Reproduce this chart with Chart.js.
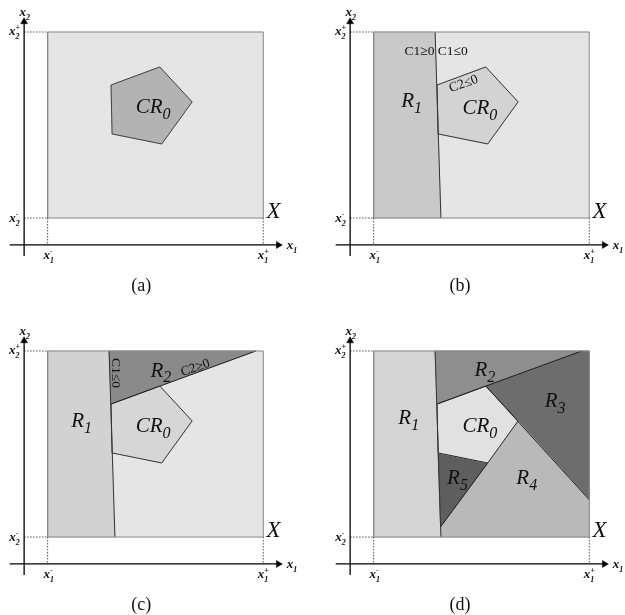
<!DOCTYPE html>
<html>
<head>
<meta charset="utf-8">
<script src="https://cdn.jsdelivr.net/npm/chart.js@4"></script>
<style>
html, body { margin: 0; padding: 0; overflow: hidden; background: #fff; }
canvas { position: absolute; }
</style>
</head>
<body>
<canvas id="panelA" width="326" height="319" style="left:0;top:0"></canvas>
<canvas id="panelB" width="326" height="319" style="left:326px;top:0"></canvas>
<canvas id="panelC" width="326" height="319" style="left:0;top:319px"></canvas>
<canvas id="panelD" width="326" height="319" style="left:326px;top:319px"></canvas>
<script>
// Region corners in (x1, x2) units, box X scaled to 0..100 on both axes
const boxCorners = [[0, 0], [100, 0], [100, 100], [0, 100]];
const cr0Corners = [[29.4, 71.5], [52, 81.2], [67, 62.4], [52.9, 39.8], [29.9, 45.2]];
const r1Corners = [[0, 0], [31.2, 0], [28.5, 100], [0, 100]];
const r2Corners = [[28.5, 100], [96.5, 100], [52, 81.2], [29.4, 71.5]];
const r3Corners = [[96.5, 100], [100, 100], [100, 20], [67, 62.4], [52, 81.2]];
const r4Corners = [[67, 62.4], [100, 20], [100, 0], [31.2, 0], [31.05, 5.5], [52.9, 39.8]];
const r5Corners = [[29.9, 45.2], [52.9, 39.8], [31.05, 5.5]];

// Cuts between regions
const cut1 = [[28.5, 100], [31.2, 0]];          // C1 = 0
const cut2 = [[29.4, 71.5], [96.5, 100]];       // C2 = 0
const cut3 = [[52, 81.2], [100, 20]];
const cut4 = [[52.9, 39.8], [31.05, 5.5]];

// Where the coordinate axes sit
const originX1 = -10.9;
const originX2 = -14.5;

const captions = ['(a)', '(b)', '(c)', '(d)'];
const captionX = [43.4, 40, 43.4, 40];

// Functions START
function closed(points) {
    return points.concat([points[0]]).map(([x, y]) => ({x: x, y: y}));
}

function polygon(points, color) {
    return {
        data: closed(points), showLine: true, fill: 'shape',
        backgroundColor: color, borderColor: color, borderWidth: 1,
        pointRadius: 0, tension: 0, clip: false
    };
}

function outline(points, color, width) {
    return {
        data: closed(points), showLine: true, fill: false,
        borderColor: color, borderWidth: width, pointRadius: 0, tension: 0, clip: false
    };
}

function segment(points, color, width, dash) {
    return {
        data: points.map(([x, y]) => ({x: x, y: y})), showLine: true, fill: false,
        borderColor: color, borderWidth: width, borderDash: dash || [],
        pointRadius: 0, tension: 0, clip: false
    };
}

function arrow(points, rotation) {
    let ds = segment(points, '#000', 1.3);
    ds.pointRadius = [0, 4];
    ds.pointStyle = 'triangle';
    ds.pointRotation = rotation;
    ds.pointBackgroundColor = '#000';
    ds.pointBorderColor = '#000';
    ds.pointBorderWidth = 0.5;
    return ds;
}

function frame() {
    // axes, dotted bound markers and the outline of X
    return [
        segment([[originX1, 100], [0, 100]], '#555', 1, [1.5, 1.5]),
        segment([[originX1, 0], [0, 0]], '#555', 1, [1.5, 1.5]),
        segment([[0, 0], [0, originX2]], '#555', 1, [1.5, 1.5]),
        segment([[100, 0], [100, originX2]], '#555', 1, [1.5, 1.5]),
        outline(boxCorners, '#8a8a8a', 1),
        arrow([[originX1, -20.4], [originX1, 105.5]], 0),
        arrow([[-17.6, originX2], [107, originX2]], 90)
    ];
}

function label(at, parts, size, extra) {
    return Object.assign({at: at, parts: parts, size: size, italic: true, subRatio: 0.65}, extra || {});
}

function region(at, name, sub) {
    return label(at, [[name, 'base'], [sub, 'sub']], 21, {subRatio: 0.74});
}

function axisLabels(idx) {
    const b = {bold: true};
    return [
        label([-10.6, 110.8], [['x', 'base'], ['2', 'sub']], 13, b),
        label([-15.4, 100.5], [['x', 'base'], ['2', 'sub'], ['+', 'sup']], 13, b),
        label([-15.4, 0], [['x', 'base'], ['2', 'sub'], ['-', 'sup']], 13, b),
        label([0.5, -19.8], [['x', 'base'], ['1', 'sub'], ['-', 'sup']], 13, b),
        label([100, -19.8], [['x', 'base'], ['1', 'sub'], ['+', 'sup']], 13, b),
        label([110.9, originX2], [['x', 'base'], ['1', 'sub']], 13, {bold: true, align: 'left'}),
        label([101.5, 4.3], [['X', 'base']], 23, {align: 'left'}),
        label([captionX[idx], -35.8], [[captions[idx], 'base']], 18, {italic: false})
    ];
}

function condition(at, text, rotation) {
    return label(at, [[text, 'base']], 13.5, {italic: false, rotation: rotation || 0});
}

function drawRich(ctx, px, py, item) {
    const size = item.size;
    const subSize = Math.round(size * item.subRatio);
    const style = (item.italic ? 'italic ' : '') + (item.bold ? 'bold ' : '');
    let runs = [];
    let cursor = 0;
    let prev = null;
    item.parts.forEach(([text, kind]) => {
        const fs = kind === 'base' ? size : subSize;
        ctx.font = style + fs + 'px "Liberation Serif", serif';
        const w = ctx.measureText(text).width;
        const x0 = (kind === 'sup' && prev && prev.kind === 'sub') ? prev.x0 : cursor;
        const dy = kind === 'sub' ? size * 0.26 : kind === 'sup' ? -size * 0.42 : 0;
        const run = {text: text, kind: kind, fs: fs, x0: x0, dy: dy};
        runs.push(run);
        prev = run;
        cursor = Math.max(cursor, x0 + w);
    });
    const start = item.align === 'left' ? 0 : item.align === 'right' ? -cursor : -cursor / 2;
    ctx.save();
    ctx.translate(px, py);
    ctx.rotate((item.rotation || 0) * Math.PI / 180);
    ctx.fillStyle = '#111';
    ctx.textAlign = 'left';
    ctx.textBaseline = 'alphabetic';
    runs.forEach((r) => {
        ctx.font = style + r.fs + 'px "Liberation Serif", serif';
        ctx.fillText(r.text, start + r.x0, size * 0.34 + r.dy);
    });
    ctx.restore();
}

function textPlugin(items) {
    return {
        id: 'panelText',
        afterDraw(chart) {
            const {ctx, scales} = chart;
            items.forEach((item) => {
                drawRich(ctx, scales.x.getPixelForValue(item.at[0]), scales.y.getPixelForValue(item.at[1]), item);
            });
        }
    };
}

function makePanel(canvasId, layers, items) {
    // first layer is painted first, so it gets the highest order
    layers.forEach((ds, i) => { ds.order = layers.length - i; });
    new Chart(document.getElementById(canvasId), {
        type: 'scatter',
        data: {datasets: layers},
        options: {
            responsive: false,
            animation: false,
            events: [],
            layout: {padding: {left: 1, right: 0, top: 13.4, bottom: 54.5}},
            scales: {
                x: {type: 'linear', min: -20, max: 127, display: false},
                y: {type: 'linear', min: -25, max: 110, display: false}
            },
            plugins: {legend: {display: false}, tooltip: {enabled: false}}
        },
        plugins: [textPlugin(items)]
    });
}

// (a) critical region only
makePanel('panelA', [
    polygon(boxCorners, '#e5e5e5'),
    polygon(cr0Corners, '#b3b3b3'),
    outline(cr0Corners, '#444', 1)
].concat(frame()), [
    region([48.9, 60.2], 'CR', '0')
].concat(axisLabels(0)));

// (b) first cut C1
makePanel('panelB', [
    polygon(boxCorners, '#e5e5e5'),
    polygon(r1Corners, '#c9c9c9'),
    polygon(cr0Corners, '#d3d3d3'),
    outline(cr0Corners, '#333', 1),
    segment(cut1, '#333', 1)
].concat(frame()), [
    region([17.6, 63.4], 'R', '1'),
    region([49.3, 59.7], 'CR', '0'),
    condition([21.3, 90.3], 'C1≥0'),
    condition([36.7, 90.3], 'C1≤0'),
    condition([41.6, 72.6], 'C2≤0', -19.7)
].concat(axisLabels(1)));

// (c) second cut C2
makePanel('panelC', [
    polygon(boxCorners, '#e5e5e5'),
    polygon(r1Corners, '#d2d2d2'),
    polygon(r2Corners, '#8a8a8a'),
    polygon(cr0Corners, '#d6d6d6'),
    outline(cr0Corners, '#333', 1),
    segment(cut1, '#333', 1),
    segment(cut2, '#222', 1)
].concat(frame()), [
    region([15.8, 62.9], 'R', '1'),
    region([52.5, 90], 'R', '2'),
    region([48.9, 60.2], 'CR', '0'),
    condition([32.1, 88.2], 'C1≤0', 90),
    condition([68.3, 91.4], 'C2≥0', -19.7)
].concat(axisLabels(2)));

// (d) full partition
makePanel('panelD', [
    polygon(boxCorners, '#e5e5e5'),
    polygon(r1Corners, '#d4d4d4'),
    polygon(r2Corners, '#8e8e8e'),
    polygon(r3Corners, '#6d6d6d'),
    polygon(r4Corners, '#b9b9b9'),
    polygon(r5Corners, '#5e5e5e'),
    polygon(cr0Corners, '#e1e1e1'),
    outline(cr0Corners, '#222', 1),
    segment(cut1, '#333', 1),
    segment(cut2, '#222', 1),
    segment(cut3, '#222', 1),
    segment(cut4, '#222', 1)
].concat(frame()), [
    region([16.3, 64.5], 'R', '1'),
    region([51.6, 90.3], 'R', '2'),
    region([84.2, 73.7], 'R', '3'),
    region([71, 32.3], 'R', '4'),
    region([38.9, 32.3], 'R', '5'),
    region([49.3, 60.2], 'CR', '0')
].concat(axisLabels(3)));
// Functions END
</script>
</body>
</html>
